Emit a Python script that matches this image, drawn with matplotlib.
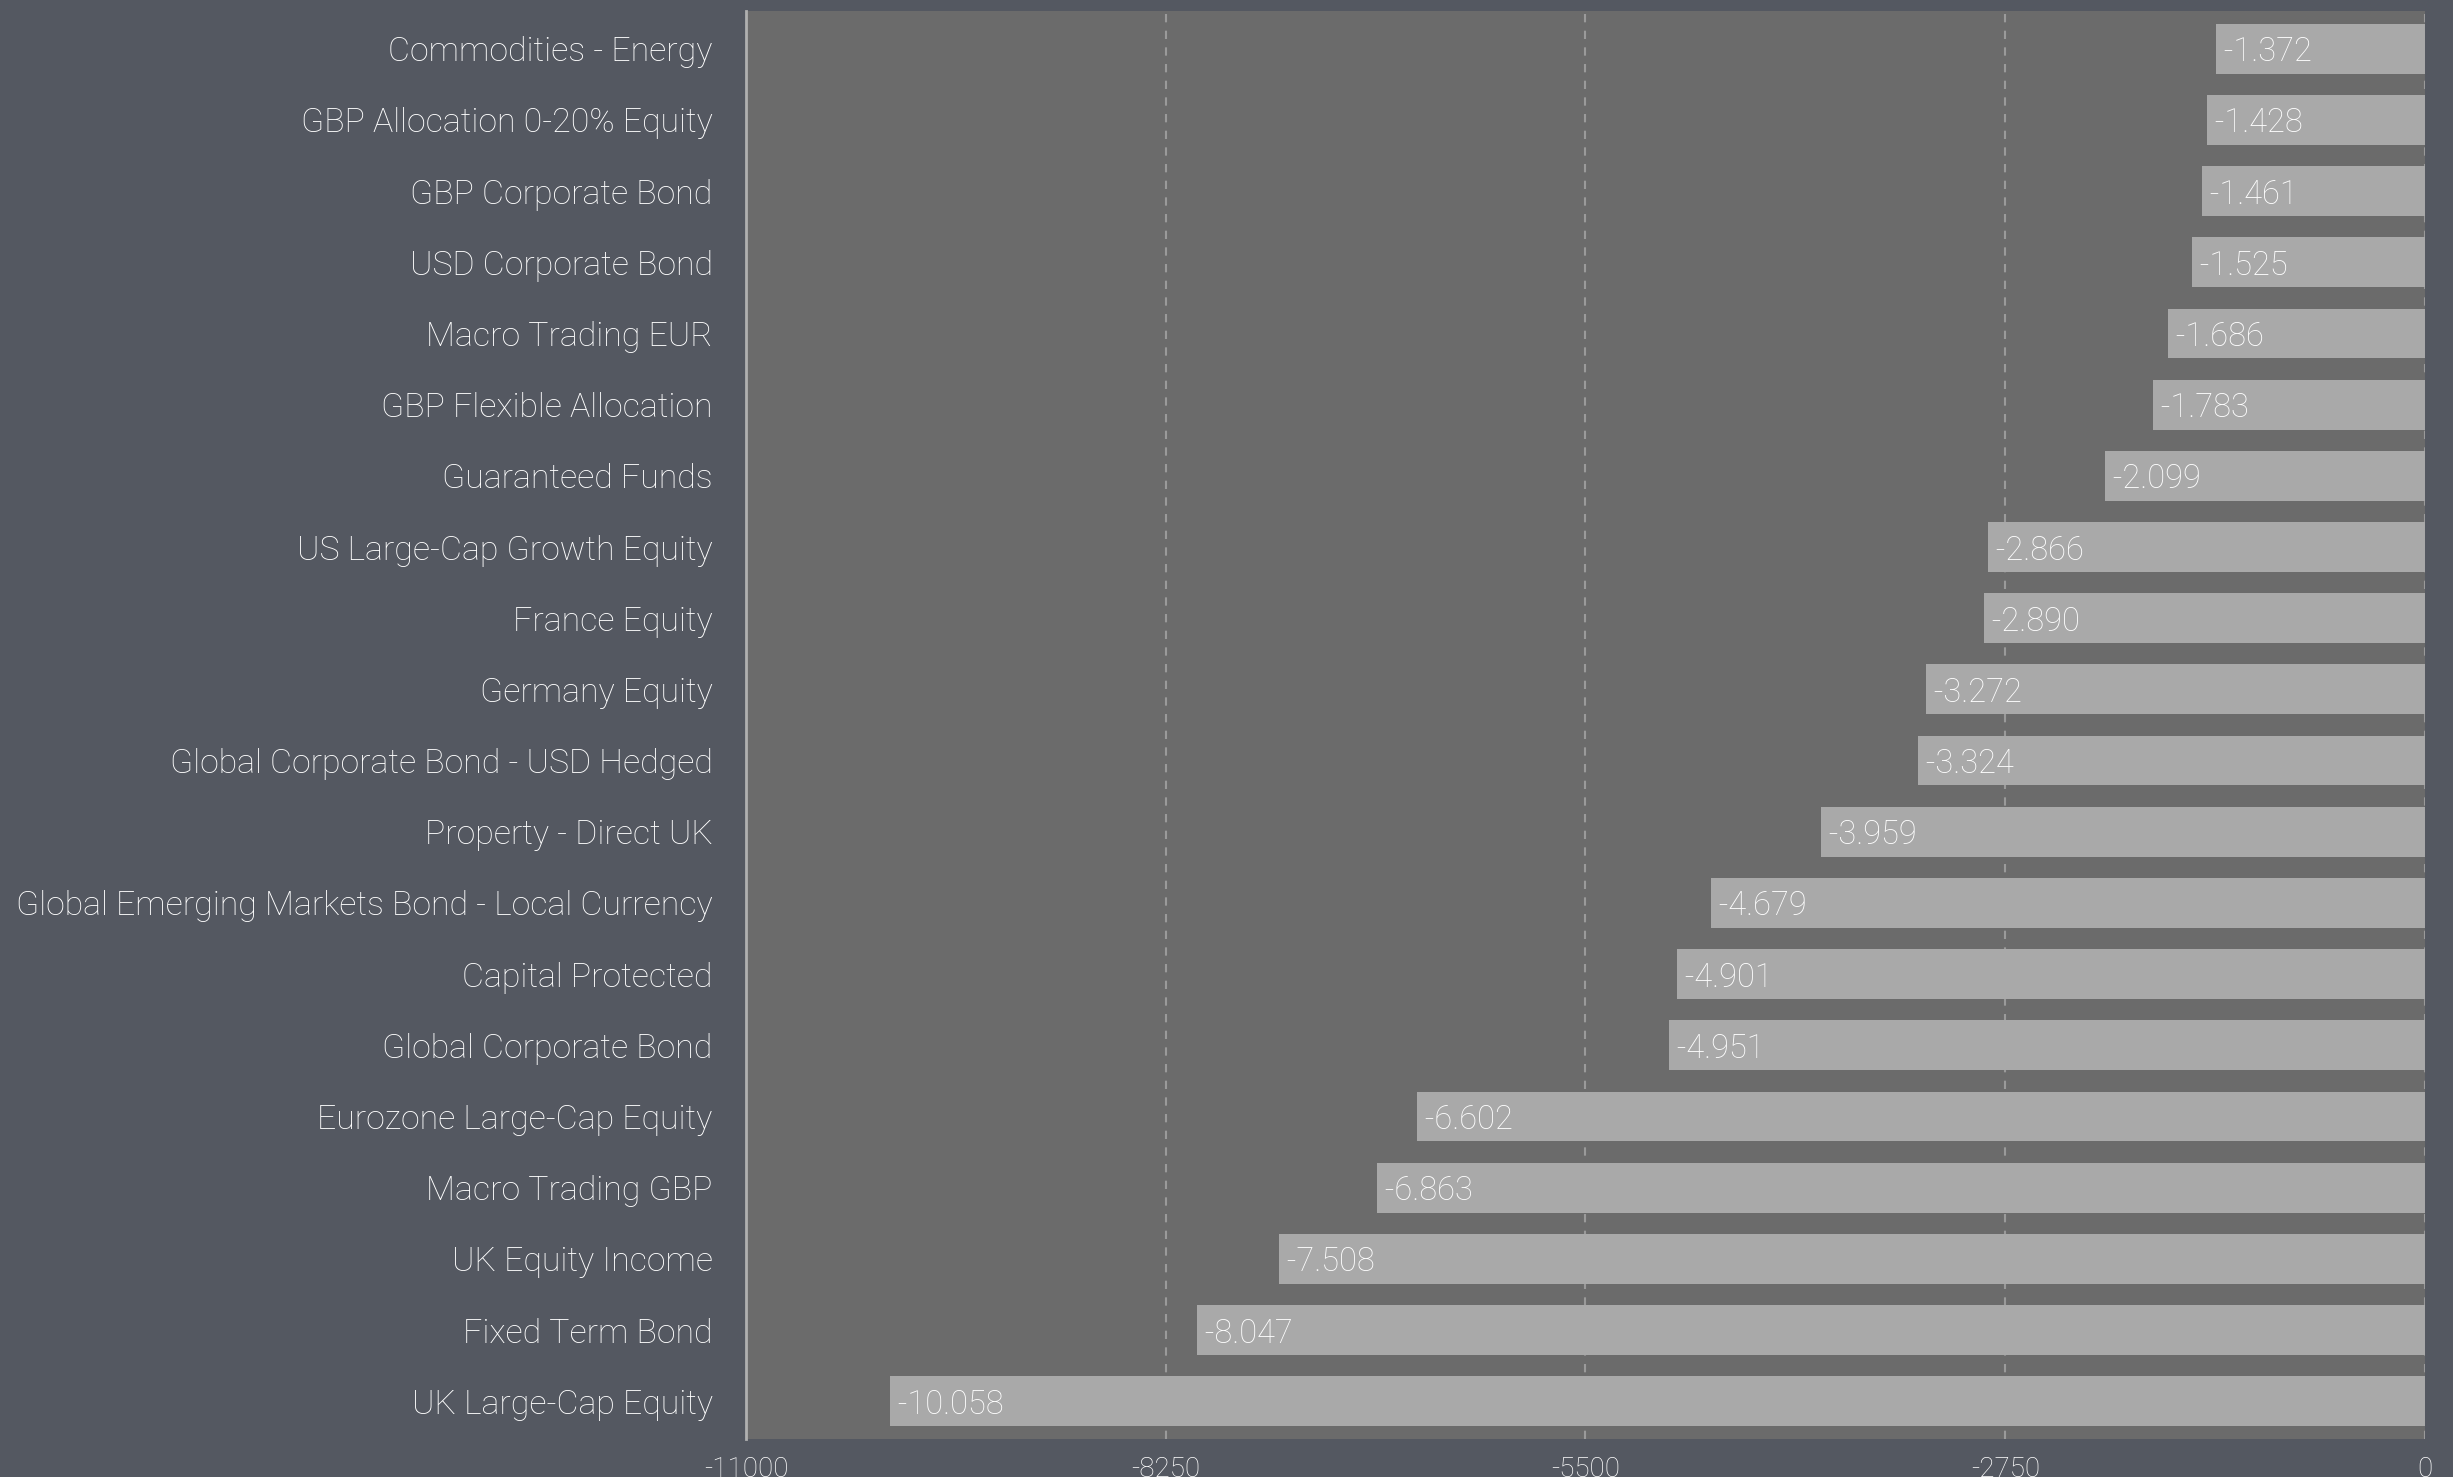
import numpy as np
import matplotlib.pyplot as plt

plt.rcParams["font.family"] = ["Roboto", "DejaVu Sans"]

categories = [
    "Commodities - Energy", "GBP Allocation 0-20% Equity", "GBP Corporate Bond",
    "USD Corporate Bond", "Macro Trading EUR", "GBP Flexible Allocation",
    "Guaranteed Funds", "US Large-Cap Growth Equity", "France Equity",
    "Germany Equity", "Global Corporate Bond - USD Hedged", "Property - Direct UK",
    "Global Emerging Markets Bond - Local Currency", "Capital Protected",
    "Global Corporate Bond", "Eurozone Large-Cap Equity", "Macro Trading GBP",
    "UK Equity Income", "Fixed Term Bond", "UK Large-Cap Equity",
]
values = [-1372, -1428, -1461, -1525, -1686, -1783, -2099, -2866, -2890, -3272,
          -3324, -3959, -4679, -4901, -4951, -6602, -6863, -7508, -8047, -10058]
xticks = [-11000, -8250, -5500, -2750, 0]

bg = "#545861"
fig = plt.figure(figsize=(24.53, 14.77), dpi=100, facecolor=bg)
ax = fig.add_axes([0.3041, 0.0257, 0.6845, 0.9669])
ax.set_facecolor("#6b6b6b")

y = np.arange(len(categories))
ax.barh(y, values, height=0.7, color="#a9a9a9", zorder=2)
for yi, v in zip(y, values):
    txt = "{:,}".format(v).replace(",", ".")
    ax.text(v, yi, " " + txt, ha="left", va="center_baseline", color="white",
            fontsize=23.5, fontweight="light", zorder=3)

ax.set_xlim(-11000, 0)
ax.set_ylim(-0.53, len(categories) - 0.47)
ax.invert_yaxis()
ax.set_yticks(y)
ax.set_yticklabels(categories, fontsize=24.4, fontweight="light", color="white")
ax.set_xticks(xticks)
ax.set_xticklabels([str(t) for t in xticks], fontsize=20, fontweight="light", color="white")
ax.tick_params(axis="y", length=0, pad=24)
ax.tick_params(axis="x", length=0, pad=12)

ax.grid(axis="x", color="#9a9a9a", linestyle=(0, (4, 4)), linewidth=1.5, zorder=1)
for s in ["top", "right", "bottom"]:
    ax.spines[s].set_visible(False)
ax.spines["left"].set_color("#b0b0b0")
ax.spines["left"].set_linewidth(2)

fig.savefig("out.png", dpi=100, facecolor=bg)
